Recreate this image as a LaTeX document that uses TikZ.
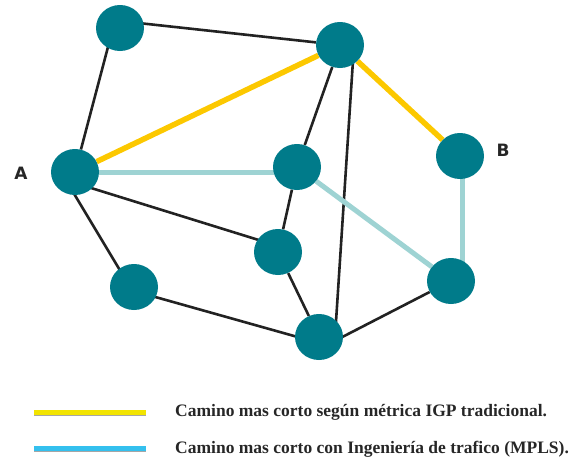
\documentclass[tikz,border=0pt]{standalone}
\usepackage{fontspec}
\setmainfont{Liberation Serif}
\newfontfamily\labelfont{DejaVu Sans}
\usetikzlibrary{shapes.geometric,calc}
\pgfdeclarelayer{links}
\pgfsetlayers{links,main}
\definecolor{routerteal}{RGB}{0,123,138}
\definecolor{igpyellow}{RGB}{252,200,0}
\definecolor{tepath}{RGB}{158,211,211}
\definecolor{linkgray}{RGB}{34,34,34}
\definecolor{keyyellow}{RGB}{242,228,0}
\definecolor{keyblue}{RGB}{52,192,238}
\tikzset{
  router/.style={ellipse, fill=routerteal, minimum width=48pt, minimum height=46pt, inner sep=0pt},
  link/.style={draw=linkgray, line width=2.6pt},
  igp/.style={draw=igpyellow, line width=5.5pt},
  mpls/.style={draw=tepath, line width=5pt},
  endlabel/.style={font=\labelfont\bfseries\fontsize{17}{17}\selectfont, text=black!85},
  keytext/.style={font=\bfseries\fontsize{17.5}{19}\selectfont, anchor=west, text=black!85, inner sep=0pt},
  keyline/.style={line width=5pt},
  keyshadow/.style={line width=5pt, draw=black!35}
}
\begin{document}
\begin{tikzpicture}[x=1pt,y=-1pt]
\useasboundingbox (0,0) rectangle (585,458);

% routers
\node[router] (N1) at (120,28) {};
\node[router] (N2) at (340,45) {};
\node[router] (A)  at (75,172) {};
\node[router] (C)  at (297,167) {};
\node[router] (B)  at (460,156) {};
\node[router] (D)  at (278,252) {};
\node[router] (E)  at (134,287) {};
\node[router] (F)  at (451,281) {};
\node[router] (G)  at (319,337) {};

\begin{pgfonlayer}{links}
% ordinary links
\draw[link] ($(N1)+(0,-7)$) -- (N2);
\draw[link] ($(N1)+(-7,0)$) -- (A);
\draw[link] ($(A)+(0,11)$) -- ($(D)+(0,-6)$);
\draw[link] ($(A)+(-14,0)$) -- ($(E)+(-4,0)$);
\draw[link] ($(E)+(0,4)$) -- ($(G)+(0,6)$);
\draw[link] (D) -- (G);
\draw[link] (C) -- (D);
\draw[link] (N2) -- (C);
\draw[link] ($(N2)+(14,0)$) -- ($(G)+(16,0)$);
\draw[link] ($(G)+(0,12)$) -- (F);

% shortest path with IGP metric
\draw[igp] (A) -- (N2) -- (B);

% shortest path with traffic engineering
\draw[mpls] (A) -- ($(C)+(0,5)$);
\draw[mpls] (C) -- (F);
\draw[mpls] ($(B)+(2,0)$) -- ($(F)+(11,0)$);
\end{pgfonlayer}

% end point labels
\node[endlabel] (la) at (21,173) {A};
\node[endlabel] (lb) at (503,150) {B};

% key
\coordinate (k1a) at (34,412);
\coordinate (k1b) at (146,412);
\coordinate (k2a) at (34,448);
\coordinate (k2b) at (146,448);
\draw[keyshadow] ($(k1a)+(0,1.5)$) -- ($(k1b)+(0,1.5)$);
\draw[keyline, draw=keyyellow] (k1a) -- (k1b);
\draw[keyshadow] ($(k2a)+(0,1.5)$) -- ($(k2b)+(0,1.5)$);
\draw[keyline, draw=keyblue] (k2a) -- (k2b);
\node[keytext] (t1) at (175,412) {Camino mas corto según métrica IGP tradicional.};
\node[keytext] (t2) at (175,449) {Camino mas corto con Ingeniería de trafico (MPLS).};
\end{tikzpicture}
\end{document}
